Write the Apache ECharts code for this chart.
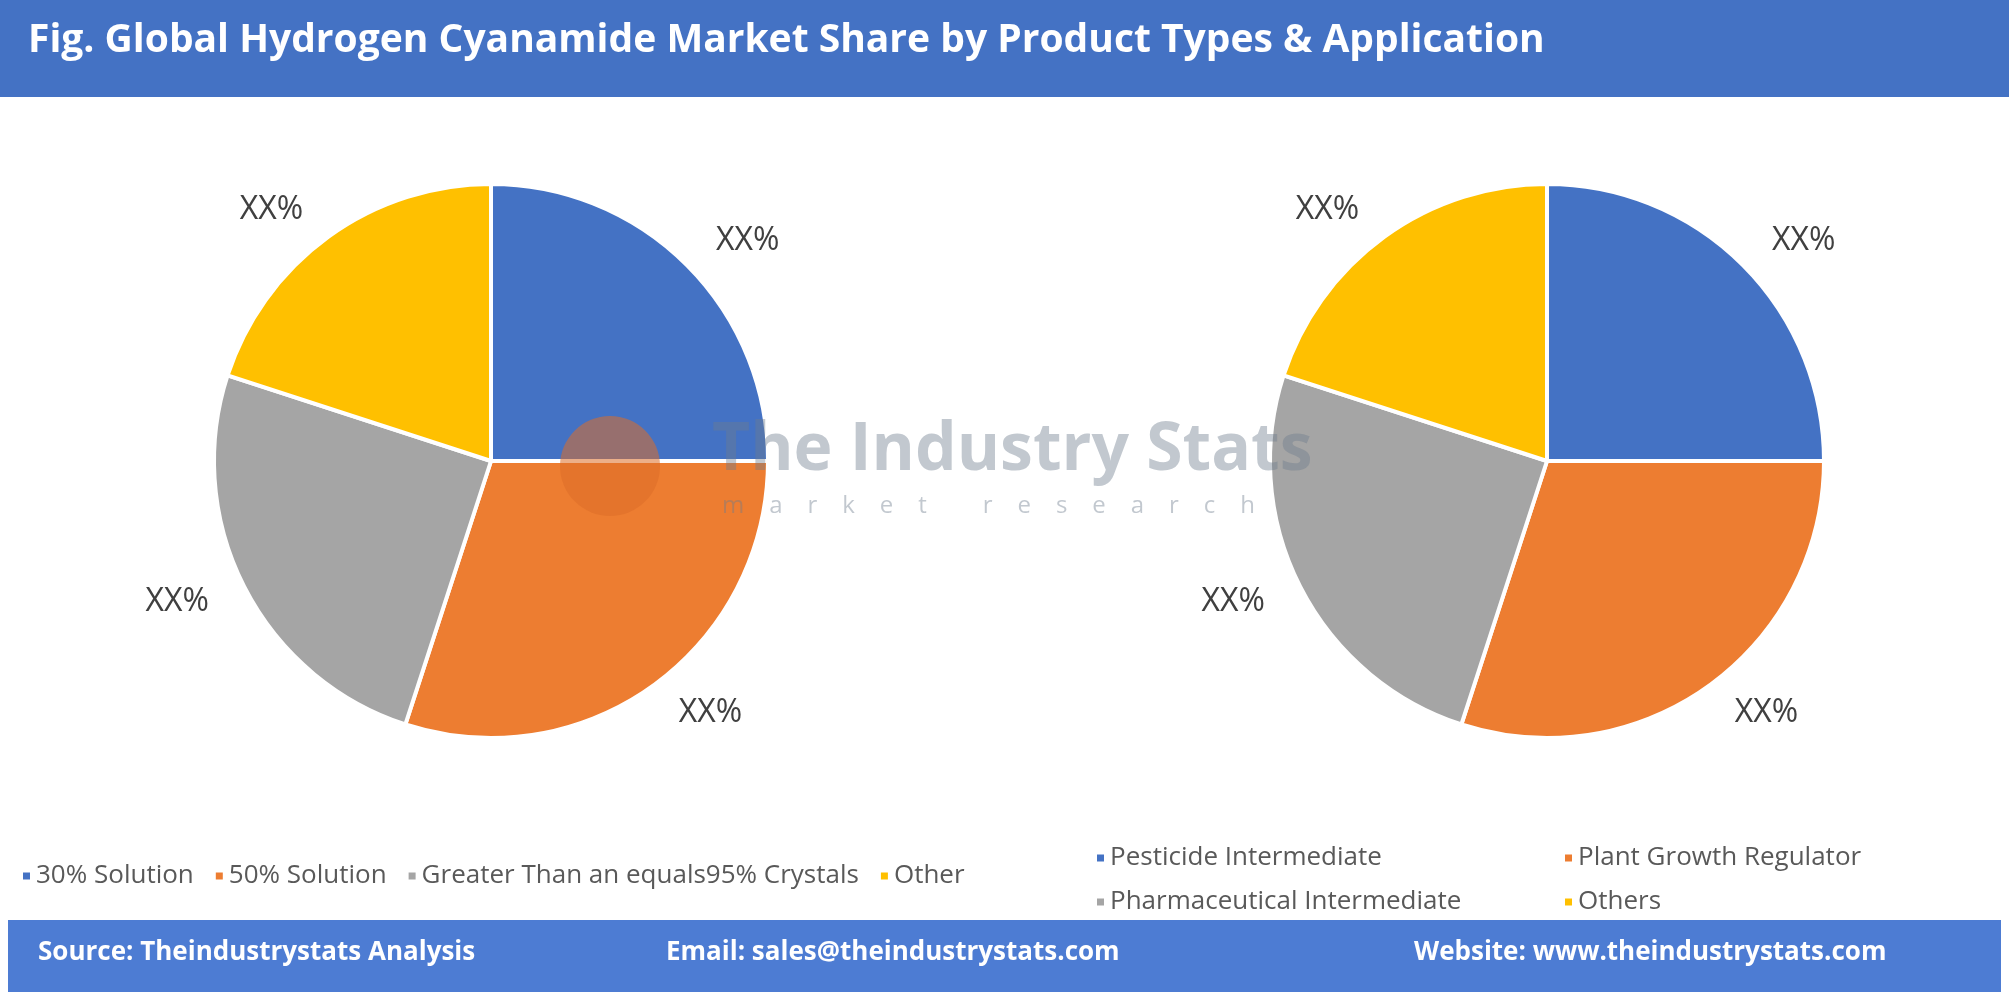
<!DOCTYPE html>
<html>
<head>
<meta charset="utf-8">
<title>Hydrogen Cyanamide Market Share</title>
<style>
  html, body { margin: 0; padding: 0; background: #fff; }
  #chart { width: 2009px; height: 994px; }
</style>
</head>
<body>
<div id="chart"></div>
<script src="https://cdn.jsdelivr.net/npm/echarts@6/dist/echarts.min.js"></script>
<script>
var colors = ['#4472C4', '#ED7D31', '#A5A5A5', '#FFC000'];
var typeNames = ['30% Solution', '50% Solution', 'Greater Than an equals95% Crystals', 'Other'];
var typeShares = [25, 30, 25, 20];
var appNames = ['Pesticide Intermediate', 'Plant Growth Regulator', 'Pharmaceutical Intermediate', 'Others'];
var appShares = [25, 30, 25, 20];
var labelText = 'XX%';

function toData(names, vals) {
  return names.map(function (n, i) { return { name: n, value: vals[i] }; });
}

function pie(center, names, vals) {
  return {
    type: 'pie',
    center: center,
    radius: 277,
    startAngle: 90,
    clockwise: true,
    color: colors,
    itemStyle: { borderColor: '#fff', borderWidth: 4 },
    label: {
      show: true, position: 'outside', formatter: labelText,
      fontFamily: 'Open Sans', fontSize: 32, color: '#404040'
    },
    labelLine: { show: false, length: 34, length2: 0 },
    emphasis: { disabled: true },
    data: toData(names, vals)
  };
}

var legendBase = {
  itemWidth: 9, itemHeight: 9, icon: 'rect',
  textStyle: { fontFamily: 'Open Sans', fontSize: 26, color: '#595959' }
};
function legend(data, left, top, gap) {
  return Object.assign({}, legendBase, { data: data, left: left, top: top, itemGap: gap || 22 });
}

var footerFont = { fontFamily: 'Open Sans', fontSize: 26, fontWeight: 'bold', fill: '#fff' };
var wmColor = 'rgba(110,125,140,0.42)';

var chart = echarts.init(document.getElementById('chart'));
chart.setOption({
  animation: false,
  color: colors,
  legend: [
    legend(typeNames, 16, 858, 20),
    legend([appNames[0]], 1090, 840),
    legend([appNames[1]], 1558, 840),
    legend([appNames[2]], 1090, 884),
    legend([appNames[3]], 1558, 884)
  ],
  graphic: [
    { type: 'rect', shape: { x: 0, y: 0, width: 2009, height: 97 }, style: { fill: '#4472C4' } },
    { type: 'text', left: 28, top: 21, style: { text: 'Fig. Global Hydrogen Cyanamide Market Share by Product Types & Application',
      fontFamily: 'Open Sans', fontSize: 39, fontWeight: 'bold', fill: '#fff' } },
    { type: 'circle', z: 100, shape: { cx: 610, cy: 466, r: 50 }, style: { fill: 'rgba(220,110,40,0.55)' } },
    { type: 'text', left: 712, top: 418, z: 100, style: { text: 'The Industry Stats',
      fontFamily: 'Open Sans', fontSize: 66, fontWeight: 'bold', fill: wmColor } },
    { type: 'text', left: 722, top: 494, z: 100, style: { text: 'm    a    r    k    e    t         r    e    s    e    a    r    c    h',
      fontFamily: 'Open Sans', fontSize: 24, fill: wmColor } },
    { type: 'rect', shape: { x: 8, y: 920, width: 1993, height: 72 }, style: { fill: '#4D7CD3' } },
    { type: 'text', left: 38, top: 940, style: Object.assign({ text: 'Source: Theindustrystats Analysis' }, footerFont) },
    { type: 'text', left: 666, top: 940, style: Object.assign({ text: 'Email: sales@theindustrystats.com' }, footerFont) },
    { type: 'text', left: 1414, top: 940, style: Object.assign({ text: 'Website: www.theindustrystats.com' }, footerFont) }
  ],
  series: [
    pie([491, 461], typeNames, typeShares),
    pie([1547, 461], appNames, appShares)
  ]
});
</script>
</body>
</html>
